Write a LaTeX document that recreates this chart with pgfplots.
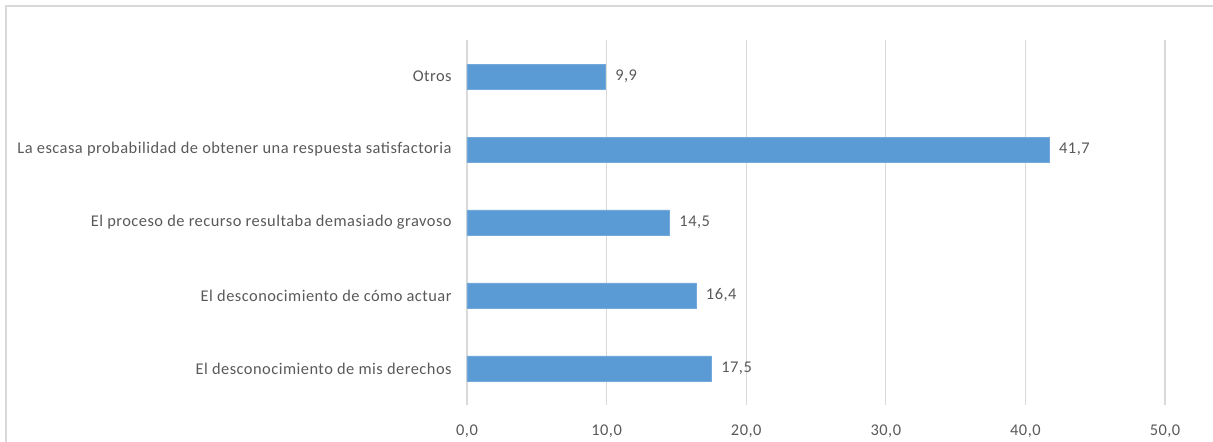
\documentclass[border=0pt]{standalone}
\usepackage{pgfplots}
\pgfplotsset{compat=1.18}
\usepackage{fontspec}
\setmainfont{Carlito}[LetterSpace=3]
\definecolor{barblue}{HTML}{5B9BD5}
\definecolor{gridgray}{HTML}{D9D9D9}
\definecolor{txtgray}{HTML}{595959}

\begin{document}
\begin{tikzpicture}
\useasboundingbox (0pt,0pt) rectangle (909.75pt,331.5pt);
\draw[gridgray, line width=1.1pt] (4.5pt,-15pt) -- (4.5pt,327pt) -- (930pt,327pt);
\begin{axis}[
    at={(350.25pt,27.75pt)}, anchor=south west,
    scale only axis,
    width=523.5pt, height=273.75pt,
    xbar, bar width=18.75pt,
    xmin=0, xmax=50,
    ymin=-0.5, ymax=4.5,
    xtick={0,10,...,50},
    ytick={0,1,2,3,4},
    yticklabels={El desconocimiento de mis derechos,
                 El desconocimiento de cómo actuar,
                 El proceso de recurso resultaba demasiado gravoso,
                 La escasa probabilidad de obtener una respuesta satisfactoria,
                 Otros},
    axis line style={draw=none},
    major tick length=0pt,
    xmajorgrids, grid style={gridgray, line width=0.8pt},
    ticklabel style={font=\fontsize{12.3}{14}\selectfont, text=txtgray},
    yticklabel style={xshift=-8pt},
    xticklabel style={yshift=-11pt},
    /pgf/number format/.cd, fixed, fixed zerofill, precision=1, use comma, assume math mode=true,
    /pgfplots/.cd,
    nodes near coords,
    nodes near coords style={font=\fontsize{12.3}{14}\selectfont, text=txtgray, xshift=4pt,
        /pgf/number format/.cd, fixed, fixed zerofill, precision=1, use comma, assume math mode=true},
]
\addplot[fill=barblue, draw=barblue!85!white] coordinates {
    (17.5,0) (16.4,1) (14.5,2) (41.7,3) (9.9,4)
};
\end{axis}
\end{tikzpicture}
\end{document}
